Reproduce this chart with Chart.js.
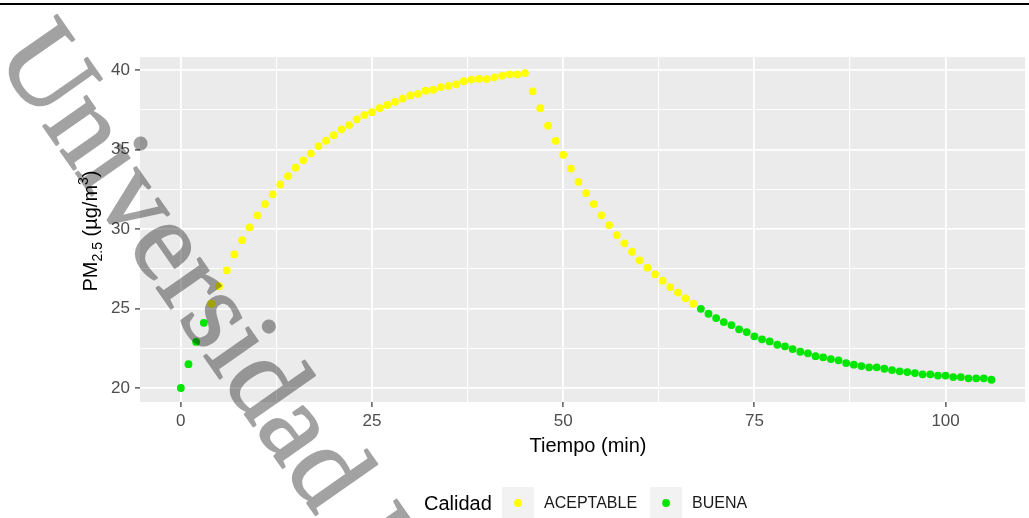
<!DOCTYPE html>
<html>
<head>
<meta charset="utf-8">
<script src="https://cdn.jsdelivr.net/npm/chart.js@4"></script>
<style>
  body { margin: 0; background: #ffffff; overflow: hidden; }
  #wrap { width: 1029px; height: 518px; position: relative; }
</style>
</head>
<body>
<div id="wrap"><canvas id="CalidadAireStats"></canvas></div>
<script>
//
//
// Data
var tiempo_min = [
  0, 1, 2, 3, 4, 5, 6, 7, 8, 9, 10, 11, 12, 13, 14, 15, 16, 17, 18, 19,
  20, 21, 22, 23, 24, 25, 26, 27, 28, 29, 30, 31, 32, 33, 34, 35, 36, 37, 38, 39,
  40, 41, 42, 43, 44, 45, 46, 47, 48, 49, 50, 51, 52, 53, 54, 55, 56, 57, 58, 59,
  60, 61, 62, 63, 64, 65, 66, 67, 68, 69, 70, 71, 72, 73, 74, 75, 76, 77, 78, 79,
  80, 81, 82, 83, 84, 85, 86, 87, 88, 89, 90, 91, 92, 93, 94, 95, 96, 97, 98, 99,
  100, 101, 102, 103, 104, 105, 106
];
var pm25_valores = [
  20.0, 21.5, 22.9, 24.1, 25.3, 26.4, 27.4, 28.4, 29.3, 30.1,
  30.86, 31.57, 32.18, 32.8, 33.33, 33.86, 34.32, 34.76, 35.22, 35.56,
  35.9, 36.27, 36.54, 36.9, 37.17, 37.35, 37.6, 37.8, 38.0, 38.2,
  38.4, 38.5, 38.7, 38.76, 38.93, 39.0, 39.1, 39.3, 39.4, 39.45,
  39.43, 39.54, 39.64, 39.73, 39.73, 39.81, 38.66, 37.6, 36.5, 35.55,
  34.67, 33.8, 32.97, 32.26, 31.57, 30.86, 30.25, 29.62, 29.1, 28.57,
  28.03, 27.57, 27.15, 26.75, 26.35, 26.0, 25.64, 25.3, 24.98, 24.67,
  24.4, 24.15, 23.96, 23.69, 23.52, 23.25, 23.06, 22.93, 22.72, 22.62,
  22.45, 22.28, 22.18, 22.0, 21.93, 21.82, 21.74, 21.57, 21.47, 21.38,
  21.3, 21.3, 21.21, 21.13, 21.05, 21.0, 20.94, 20.86, 20.86, 20.78,
  20.78, 20.69, 20.69, 20.61, 20.61, 20.61, 20.52
];
var calidad_nombres = ['ACEPTABLE', 'BUENA'];
var calidad_colores = ['#FFFF00', '#00E600'];
var umbral_buena = 25;   // below this value the point is BUENA

var x_ticks = [0, 12.5, 25, 37.5, 50, 62.5, 75, 87.5, 100];
var x_major = [0, 25, 50, 75, 100];
var y_ticks = [20, 22.5, 25, 27.5, 30, 32.5, 35, 37.5, 40];
var y_major = [20, 25, 30, 35, 40];

//
//
// Split the points by quality
var puntos_aceptable = [];
var puntos_buena = [];
for (var i = 0; i < tiempo_min.length; i++) {
  var p = { x: tiempo_min[i], y: pm25_valores[i] };
  if (pm25_valores[i] < umbral_buena) {
    puntos_buena.push(p);
  } else {
    puntos_aceptable.push(p);
  }
}

function isMajor(list, v) {
  return list.indexOf(v) !== -1;
}

//
//
// Watermark drawn once on its own canvas, then laid over the chart
function marcaDeAgua(w, h) {
  var c = document.createElement('canvas');
  c.width = w;
  c.height = h;
  var m = c.getContext('2d');
  m.translate(-6, 56);
  m.rotate(55 * Math.PI / 180);
  m.font = '115px "Liberation Serif", "Times New Roman", serif';
  m.fillStyle = '#000000';
  m.strokeStyle = '#000000';
  m.lineWidth = 2;
  m.lineJoin = 'round';
  m.fillText('Universidad Nacional', 0, 0);
  m.strokeText('Universidad Nacional', 0, 0);
  return c;
}

//
//
// Panel background, titles, legend, watermark
var ggplotLook = {
  id: 'ggplotLook',
  beforeDraw: function(chart) {
    var ctx = chart.ctx;
    var a = chart.chartArea;
    ctx.save();
    ctx.fillStyle = '#ffffff';
    ctx.fillRect(0, 0, chart.width, chart.height);
    ctx.fillStyle = '#EBEBEB';
    ctx.fillRect(a.left, a.top, a.right - a.left, a.bottom - a.top);
    ctx.restore();
  },
  afterDraw: function(chart) {
    var ctx = chart.ctx;
    ctx.save();

    // top rule
    ctx.fillStyle = '#000000';
    ctx.fillRect(0, 3, chart.width, 2);

    // x title
    ctx.fillStyle = '#000000';
    ctx.font = '20px "Liberation Sans", Arial, sans-serif';
    ctx.textAlign = 'center';
    ctx.textBaseline = 'middle';
    ctx.fillText('Tiempo (min)', 588, 446);

    // y title : PM2.5 (µg/m3) with sub / superscript
    var big = '20px "Liberation Sans", Arial, sans-serif';
    var small = '14px "Liberation Sans", Arial, sans-serif';
    var piezas = [
      { t: 'PM', f: big, dy: 0 },
      { t: '2.5', f: small, dy: 5 },
      { t: ' (\u00b5g/m', f: big, dy: 0 },
      { t: '3', f: small, dy: -9 },
      { t: ')', f: big, dy: 0 }
    ];
    var total = 0;
    piezas.forEach(function(pz) { ctx.font = pz.f; total += ctx.measureText(pz.t).width; });
    ctx.translate(97, 231 + total / 2);
    ctx.rotate(-Math.PI / 2);
    ctx.textAlign = 'left';
    ctx.textBaseline = 'alphabetic';
    var px = 0;
    piezas.forEach(function(pz) {
      ctx.font = pz.f;
      ctx.fillText(pz.t, px, pz.dy);
      px += ctx.measureText(pz.t).width;
    });
    ctx.setTransform(1, 0, 0, 1, 0, 0);

    // legend
    ctx.textBaseline = 'middle';
    ctx.textAlign = 'left';
    ctx.font = '20px "Liberation Sans", Arial, sans-serif';
    ctx.fillStyle = '#000000';
    ctx.fillText('Calidad', 424, 504);
    var lx = 502;
    ctx.font = '16px "Liberation Sans", Arial, sans-serif';
    for (var k = 0; k < calidad_nombres.length; k++) {
      ctx.fillStyle = '#F2F2F2';
      ctx.fillRect(lx, 487, 32, 32);
      ctx.fillStyle = calidad_colores[k];
      ctx.beginPath();
      ctx.arc(lx + 16, 503, 3.9, 0, Math.PI * 2);
      ctx.fill();
      ctx.fillStyle = '#1a1a1a';
      ctx.fillText(calidad_nombres[k], lx + 42, 504);
      lx += 42 + ctx.measureText(calidad_nombres[k]).width + 13;
    }

    // watermark
    ctx.globalAlpha = 0.36;
    ctx.drawImage(marcaDeAgua(chart.width, chart.height), 0, 0);

    ctx.restore();
  }
};

//
//
// Draw Chart
var calidad_stats = document.getElementById('CalidadAireStats').getContext('2d');

new Chart(calidad_stats, {
  type: 'scatter',
  data: {
    datasets: [{
      label: calidad_nombres[0],
      data: puntos_aceptable,
      backgroundColor: calidad_colores[0],
      borderWidth: 0,
      pointRadius: 3.9,
      pointHoverRadius: 3.9
    }, {
      label: calidad_nombres[1],
      data: puntos_buena,
      backgroundColor: calidad_colores[1],
      borderWidth: 0,
      pointRadius: 3.9,
      pointHoverRadius: 3.9
    }]
  },
  options: {
    responsive: true,
    maintainAspectRatio: false,
    animation: false,
    events: [],
    layout: { padding: { top: 57, right: 0, bottom: 0, left: 0 } },
    plugins: {
      legend: { display: false },
      tooltip: { enabled: false }
    },
    scales: {
      x: {
        type: 'linear',
        min: -5.34,
        max: 110.4,
        afterBuildTicks: function(scale) {
          scale.ticks = x_ticks.map(function(v) { return { value: v }; });
        },
        afterFit: function(scale) { scale.height = 116; },
        border: { display: false },
        grid: {
          color: '#ffffff',
          lineWidth: function(c) { return isMajor(x_major, c.tick.value) ? 1.8 : 1.1; },
          tickColor: function(c) { return isMajor(x_major, c.tick.value) ? '#333333' : 'rgba(0,0,0,0)'; },
          tickWidth: 1.2,
          tickLength: 5
        },
        ticks: {
          autoSkip: false,
          maxRotation: 0,
          padding: 4,
          color: '#4D4D4D',
          font: { family: '"Liberation Sans", Arial, sans-serif', size: 17 },
          callback: function(v) { return isMajor(x_major, v) ? String(v) : ''; }
        }
      },
      y: {
        type: 'linear',
        min: 19.12,
        max: 40.82,
        afterBuildTicks: function(scale) {
          scale.ticks = y_ticks.map(function(v) { return { value: v }; });
        },
        afterFit: function(scale) { scale.width = 140; },
        border: { display: false },
        grid: {
          color: '#ffffff',
          lineWidth: function(c) { return isMajor(y_major, c.tick.value) ? 1.8 : 1.1; },
          tickColor: function(c) { return isMajor(y_major, c.tick.value) ? '#333333' : 'rgba(0,0,0,0)'; },
          tickWidth: 1.2,
          tickLength: 5
        },
        ticks: {
          autoSkip: false,
          padding: 5,
          color: '#4D4D4D',
          font: { family: '"Liberation Sans", Arial, sans-serif', size: 17 },
          callback: function(v) { return isMajor(y_major, v) ? String(v) : ''; }
        }
      }
    }
  },
  plugins: [ggplotLook]
});
</script>
</body>
</html>
